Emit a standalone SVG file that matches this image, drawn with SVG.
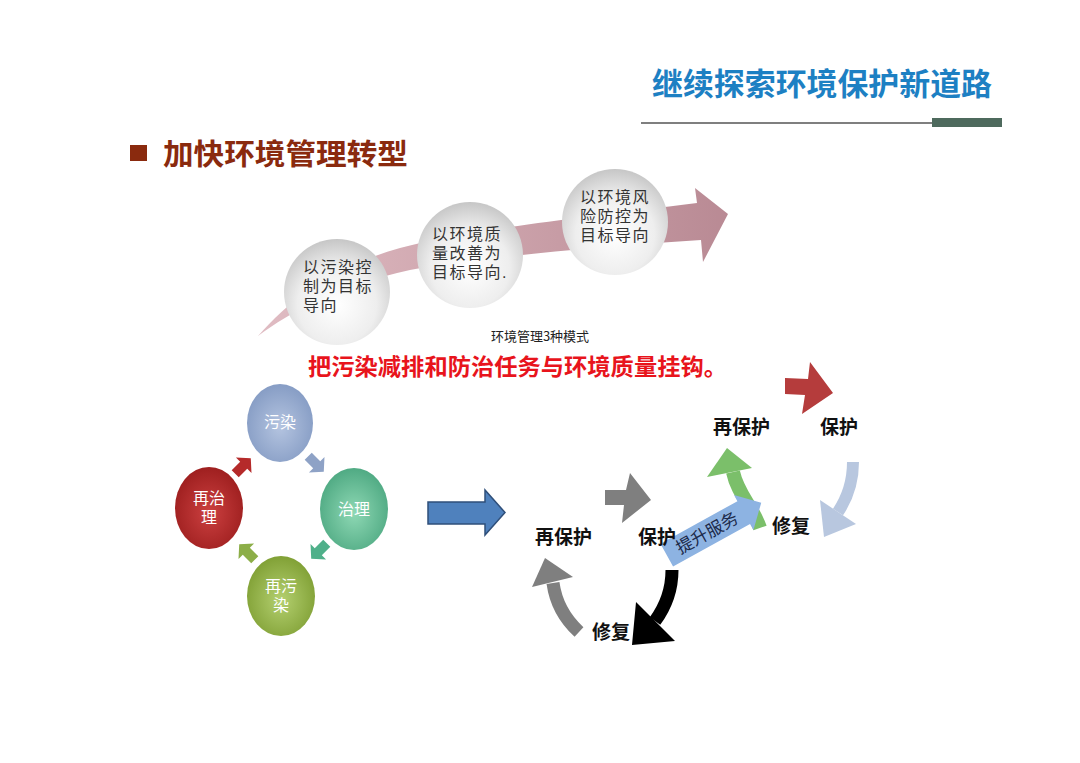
<svg xmlns="http://www.w3.org/2000/svg" width="1080" height="763" viewBox="0 0 1080 763">
<style>
.cjk{font-family:"Noto Sans CJK SC","Noto Sans",sans-serif}
.tight{font-family:"Liberation Sans","Noto Sans CJK SC",sans-serif}
.title{font-size:31px;font-weight:bold;fill:#1d80c3}
.sect{font-size:29px;font-weight:bold;fill:#8a2a0e}
.mode{font-size:16px;fill:#333;letter-spacing:1.5px}
.cyc{font-size:16px;fill:#fff}
.lbl{font-size:19px;font-weight:bold;fill:#111}
</style>
<defs>
<linearGradient id="gPink" x1="0" y1="0" x2="1" y2="0">
<stop offset="0" stop-color="#e0bcc3"/><stop offset="1" stop-color="#b98a94"/>
</linearGradient>
<radialGradient id="gBall" cx="0.5" cy="0.62" r="0.62">
<stop offset="0" stop-color="#ffffff"/><stop offset="0.6" stop-color="#eeeeee"/><stop offset="1" stop-color="#c6c6c6"/>
</radialGradient>
<radialGradient id="gBlue" cx="0.5" cy="0.55" r="0.6"><stop offset="0" stop-color="#b4c4e0"/><stop offset="1" stop-color="#8299c2"/></radialGradient>
<radialGradient id="gGreen" cx="0.5" cy="0.55" r="0.6"><stop offset="0" stop-color="#8ed8b4"/><stop offset="1" stop-color="#4aa67f"/></radialGradient>
<radialGradient id="gRed" cx="0.5" cy="0.55" r="0.6"><stop offset="0" stop-color="#cc4040"/><stop offset="1" stop-color="#9a1c1c"/></radialGradient>
<radialGradient id="gOlive" cx="0.5" cy="0.55" r="0.6"><stop offset="0" stop-color="#b4d070"/><stop offset="1" stop-color="#7c9c30"/></radialGradient>
<path id="smallArrow" d="M-11,-5 L1,-5 L1,-11 L11,0 L1,11 L1,5 L-11,5 Z"/>
</defs>
<rect width="1080" height="763" fill="#ffffff"/>

<g id="header">
<text class="cjk title" x="652" y="95" textLength="340" lengthAdjust="spacingAndGlyphs">继续探索环境保护新道路</text>
<line x1="641" y1="123" x2="932" y2="123" stroke="#555" stroke-width="1.3"/>
<rect x="932" y="118" width="70" height="9" fill="#4e6a5d"/>
<rect x="130" y="145" width="17" height="16" fill="#8a2a0e"/>
<text class="cjk sect" x="163" y="165" textLength="245" lengthAdjust="spacingAndGlyphs">加快环境管理转型</text>
</g>

<g id="connectors">
<path id="bigArrow" d="M258,336 C290,300 330,268 400,248 C470,230 560,220 697,203 L695,188 L728,214 L703,262 L701,240 C580,248 480,258 410,270 C340,285 290,312 258,336 Z" fill="url(#gPink)"/>
<use href="#smallArrow" transform="translate(316,464) rotate(45)" fill="#8ea2c6"/>
<use href="#smallArrow" transform="translate(319,551) rotate(135)" fill="#4fb08a"/>
<use href="#smallArrow" transform="translate(247,552) rotate(-135)" fill="#8cae48"/>
<use href="#smallArrow" transform="translate(243,466) rotate(-45)" fill="#b52a2a"/>
<path d="M428,502 L485,502 L485,490 L505,512.5 L485,535 L485,524 L428,524 Z" fill="#4f81bd" stroke="#2f4f7a" stroke-width="1.5"/>
<polygon points="785,378 808,379 810,362 833,393 802,414 805,395 785,394" fill="#b53c3c"/>
<polygon points="605,490 626,490 630,473 651,500 622,523 624,505 605,505" fill="#7f7f7f"/>
<path d="M853,462 C853,482 848,497 838,512" fill="none" stroke="#b8c7df" stroke-width="12"/>
<polygon points="820,500 856,524 824,537" fill="#b8c7df"/>
<path d="M760,528 C752,505 738,495 733,472" fill="none" stroke="#7bbf6a" stroke-width="14"/>
<polygon points="727,448 707,477 752,468" fill="#7bbf6a"/>
<g transform="translate(714,529) rotate(-29)">
<path d="M-54,-13 L34,-13 L34,-20 L54,0 L34,20 L34,13 L-54,13 Z" fill="#8db3e2"/>
<text class="cjk" x="-8" y="6" font-size="17" fill="#1c2a4a" text-anchor="middle">提升服务</text>
</g>
<path d="M672,570 C672,590 666,606 655,621" fill="none" stroke="#000" stroke-width="13"/>
<polygon points="636,602 675,641 632,645" fill="#000"/>
<path d="M579,632 C566,620 556,605 553,583" fill="none" stroke="#7f7f7f" stroke-width="13"/>
<polygon points="545,558 532,587 573,577" fill="#7f7f7f"/>
</g>

<g id="mode1">
<circle cx="337" cy="292" r="53" fill="url(#gBall)"/>
<text class="tight mode" x="303" y="273">以污染控</text>
<text class="tight mode" x="303" y="292">制为目标</text>
<text class="tight mode" x="303" y="311">导向</text>
</g>
<g id="mode2">
<circle cx="470" cy="255" r="53" fill="url(#gBall)"/>
<text class="tight mode" x="432" y="240">以环境质</text>
<text class="tight mode" x="432" y="259">量改善为</text>
<text class="tight mode" x="432" y="278">目标导向.</text>
</g>
<g id="mode3">
<circle cx="615" cy="222" r="53" fill="url(#gBall)"/>
<text class="tight mode" x="580" y="203">以环境风</text>
<text class="tight mode" x="580" y="222">险防控为</text>
<text class="tight mode" x="580" y="241">目标导向</text>
</g>

<g id="captions">
<text class="cjk" x="540" y="341" font-size="13" fill="#222" text-anchor="middle">环境管理3种模式</text>
<text class="cjk" x="308" y="375" font-size="23" font-weight="bold" fill="#e8141c" textLength="419" lengthAdjust="spacingAndGlyphs">把污染减排和防治任务与环境质量挂钩。</text>
</g>

<g id="c-wuran">
<ellipse cx="280" cy="423" rx="33" ry="39" fill="url(#gBlue)"/>
<text class="tight cyc" x="280" y="428" text-anchor="middle">污染</text>
</g>
<g id="c-zhili">
<ellipse cx="354" cy="509" rx="34" ry="41" fill="url(#gGreen)"/>
<text class="tight cyc" x="354" y="515" text-anchor="middle">治理</text>
</g>
<g id="c-zaizhili">
<ellipse cx="209" cy="508" rx="34" ry="41" fill="url(#gRed)"/>
<text class="tight cyc" x="209" y="504" text-anchor="middle">再治</text>
<text class="tight cyc" x="209" y="523" text-anchor="middle">理</text>
</g>
<g id="c-zaiwuran">
<ellipse cx="281" cy="596" rx="34" ry="40" fill="url(#gOlive)"/>
<text class="tight cyc" x="281" y="592" text-anchor="middle">再污</text>
<text class="tight cyc" x="281" y="611" text-anchor="middle">染</text>
</g>

<g id="n-top-zaibaohu"><text class="cjk lbl" x="713" y="434">再保护</text></g>
<g id="n-top-baohu"><text class="cjk lbl" x="820" y="434">保护</text></g>
<g id="n-top-xiufu"><text class="cjk lbl" x="772" y="533">修复</text></g>
<g id="n-low-zaibaohu"><text class="cjk lbl" x="535" y="544">再保护</text></g>
<g id="n-low-baohu"><text class="cjk lbl" x="638" y="544">保护</text></g>
<g id="n-low-xiufu"><text class="cjk lbl" x="592" y="639">修复</text></g>
</svg>
